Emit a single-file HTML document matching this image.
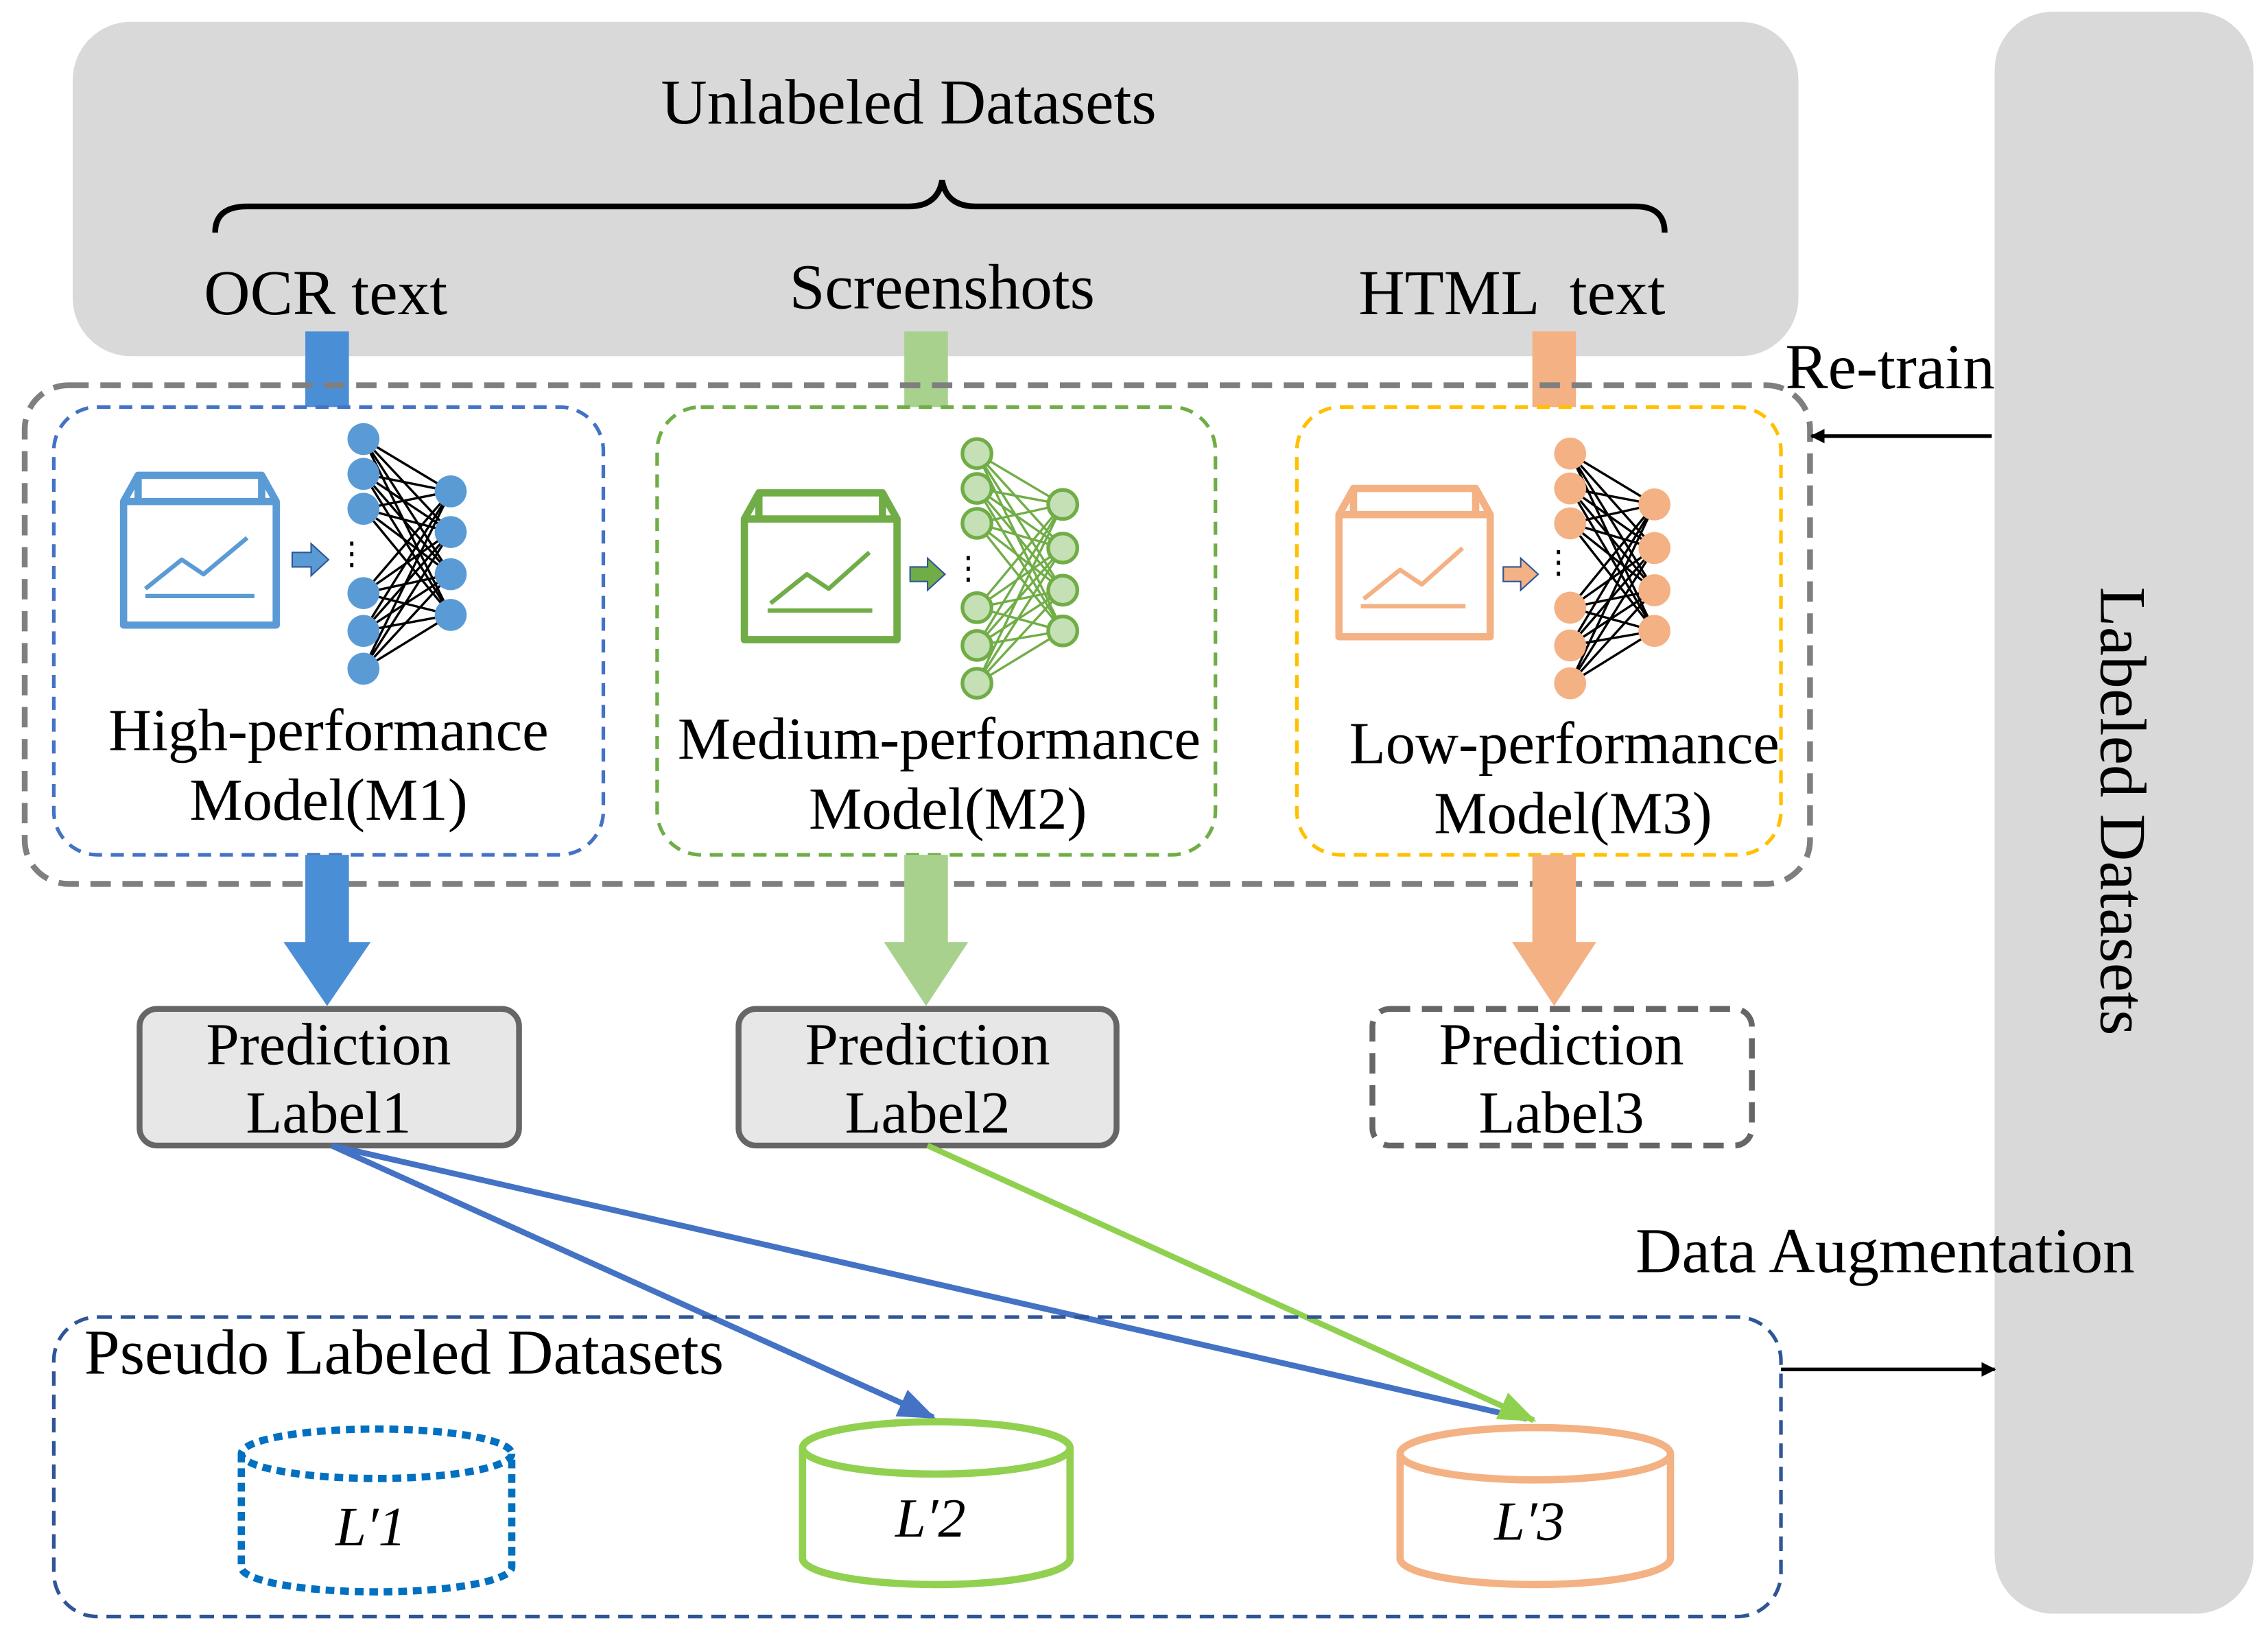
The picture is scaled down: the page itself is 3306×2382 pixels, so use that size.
<!DOCTYPE html>
<html><head><meta charset="utf-8"><style>
html,body{margin:0;padding:0;background:#fff}
svg{display:block}
text{font-family:"Liberation Serif",serif;fill:#000}
</style></head><body>
<svg width="3306" height="2382" viewBox="0 0 1560 1124" xmlns="http://www.w3.org/2000/svg">
<defs>
<marker id="ab" markerWidth="10" markerHeight="10" refX="9" refY="5" orient="auto" markerUnits="userSpaceOnUse"><path d="M0,0 L10,5 L0,10 z" fill="#000"/></marker>
<marker id="bl" markerWidth="26" markerHeight="20" refX="24" refY="10" orient="auto" markerUnits="userSpaceOnUse"><path d="M0,0 L26,10 L0,20 z" fill="#4472c4"/></marker>
<marker id="gr" markerWidth="26" markerHeight="20" refX="24" refY="10" orient="auto" markerUnits="userSpaceOnUse"><path d="M0,0 L26,10 L0,20 z" fill="#8fd14f"/></marker>
</defs>
<rect x="50" y="15" width="1187" height="230" rx="40" fill="#d9d9d9"/>
<text x="625" y="85" font-size="44" text-anchor="middle">Unlabeled Datasets</text>
<path d="M148,160 Q148,142 170,142 L625,142 Q645,142 648,124 Q651,142 671,142 L1125,142 Q1145,142 1145,160" fill="none" stroke="#000" stroke-width="4"/>
<text x="224" y="216" font-size="44" text-anchor="middle">OCR text</text>
<text x="648" y="212" font-size="44" text-anchor="middle">Screenshots</text>
<text x="1040" y="216" font-size="44" text-anchor="middle" xml:space="preserve">HTML  text</text>
<rect x="1372" y="8" width="178" height="1102" rx="40" fill="#d9d9d9"/>
<text transform="translate(1445,558) rotate(90)" font-size="45" text-anchor="middle">Labeled Datasets</text>
<rect x="210" y="228" width="30" height="52" fill="#4a8fd6"/>
<rect x="622" y="228" width="30" height="52" fill="#a9d18e"/>
<rect x="1054" y="228" width="30" height="52" fill="#f4b183"/>
<rect x="17" y="265" width="1228" height="343" rx="30" fill="none" stroke="#7f7f7f" stroke-width="4" stroke-dasharray="14,8"/>
<rect x="37" y="280" width="378" height="308" rx="30" fill="none" stroke="#4472c4" stroke-width="2.5" stroke-dasharray="9,6"/>
<rect x="452" y="280" width="384" height="308" rx="30" fill="none" stroke="#70ad47" stroke-width="2.5" stroke-dasharray="9,6"/>
<rect x="892" y="280" width="333" height="308" rx="30" fill="none" stroke="#ffc000" stroke-width="2.5" stroke-dasharray="9,6"/>
<text x="226" y="516" font-size="41" text-anchor="middle">High-performance</text>
<text x="226" y="564" font-size="41" text-anchor="middle">Model(M1)</text>
<text x="646" y="522" font-size="41" text-anchor="middle">Medium-performance</text>
<text x="652" y="570" font-size="41" text-anchor="middle">Model(M2)</text>
<text x="1076" y="525" font-size="41" text-anchor="middle">Low-performance</text>
<text x="1082" y="573" font-size="41" text-anchor="middle">Model(M3)</text>
<g fill="none" stroke-width="5" stroke-linejoin="round">
 <g stroke="#5b9bd5"><path d="M95,327 L180,327 L190,345 L190,430 L85,430 L85,345 Z M85,345 L190,345 M95,327 L95,345 M180,327 L180,345"/><path d="M100,405 L125,385 L140,395 L170,370" stroke-width="3"/><path d="M100,410 L175,410" stroke-width="3"/></g>
 <g stroke="#70ad47"><path d="M522,339 L607,339 L617,357 L617,440 L512,440 L512,357 Z M512,357 L617,357 M522,339 L522,357 M607,339 L607,357"/><path d="M530,415 L555,395 L570,405 L598,380" stroke-width="3"/><path d="M528,420 L600,420" stroke-width="3"/></g>
 <g stroke="#f4b183"><path d="M931,336 L1015,336 L1025,354 L1025,438 L921,438 L921,354 Z M921,354 L1025,354 M931,336 L931,354 M1015,336 L1015,354"/><path d="M938,412 L963,392 L978,402 L1006,377" stroke-width="3"/><path d="M936,417 L1008,417" stroke-width="3"/></g>
</g>
<path d="M201,380 L214,380 L214,374 L226,385 L214,396 L214,390 L201,390 Z" fill="#5b9bd5" stroke="#2f5597" stroke-width="1"/>
<path d="M626,390 L638,390 L638,384 L650,395 L638,406 L638,400 L626,400 Z" fill="#70ad47" stroke="#2f5597" stroke-width="1"/>
<path d="M1034,390 L1046,390 L1046,384 L1058,395 L1046,406 L1046,400 L1034,400 Z" fill="#f4b183" stroke="#2f5597" stroke-width="1"/>
<text x="242" y="388" font-size="22" text-anchor="middle">⋮</text>
<text x="666" y="398" font-size="22" text-anchor="middle">⋮</text>
<text x="1072" y="394" font-size="22" text-anchor="middle">⋮</text>
<g stroke="#000" stroke-width="1.6">
 <path d="M250,302 L310,338 M250,302 L310,366 M250,302 L310,395 M250,302 L310,423 M250,326 L310,338 M250,326 L310,366 M250,326 L310,395 M250,326 L310,423 M250,350 L310,338 M250,350 L310,366 M250,350 L310,395 M250,350 L310,423 M250,408 L310,338 M250,408 L310,366 M250,408 L310,395 M250,408 L310,423 M250,434 L310,338 M250,434 L310,366 M250,434 L310,395 M250,434 L310,423 M250,460 L310,338 M250,460 L310,366 M250,460 L310,395 M250,460 L310,423"/>
 <path d="M1080,312 L1138,347 M1080,312 L1138,377 M1080,312 L1138,406 M1080,312 L1138,434 M1080,336 L1138,347 M1080,336 L1138,377 M1080,336 L1138,406 M1080,336 L1138,434 M1080,360 L1138,347 M1080,360 L1138,377 M1080,360 L1138,406 M1080,360 L1138,434 M1080,418 L1138,347 M1080,418 L1138,377 M1080,418 L1138,406 M1080,418 L1138,434 M1080,444 L1138,347 M1080,444 L1138,377 M1080,444 L1138,406 M1080,444 L1138,434 M1080,470 L1138,347 M1080,470 L1138,377 M1080,470 L1138,406 M1080,470 L1138,434"/>
</g>
<g stroke="#70ad47" stroke-width="1.6">
 <path d="M672,312 L731,347 M672,312 L731,377 M672,312 L731,406 M672,312 L731,434 M672,336 L731,347 M672,336 L731,377 M672,336 L731,406 M672,336 L731,434 M672,360 L731,347 M672,360 L731,377 M672,360 L731,406 M672,360 L731,434 M672,418 L731,347 M672,418 L731,377 M672,418 L731,406 M672,418 L731,434 M672,444 L731,347 M672,444 L731,377 M672,444 L731,406 M672,444 L731,434 M672,470 L731,347 M672,470 L731,377 M672,470 L731,406 M672,470 L731,434"/>
</g>
<g fill="#5b9bd5"><circle cx="250" cy="302" r="11"/><circle cx="250" cy="326" r="11"/><circle cx="250" cy="350" r="11"/><circle cx="250" cy="408" r="11"/><circle cx="250" cy="434" r="11"/><circle cx="250" cy="460" r="11"/><circle cx="310" cy="338" r="11"/><circle cx="310" cy="366" r="11"/><circle cx="310" cy="395" r="11"/><circle cx="310" cy="423" r="11"/></g>
<g fill="#c5e0b4" stroke="#70ad47" stroke-width="2.5"><circle cx="672" cy="312" r="10"/><circle cx="672" cy="336" r="10"/><circle cx="672" cy="360" r="10"/><circle cx="672" cy="418" r="10"/><circle cx="672" cy="444" r="10"/><circle cx="672" cy="470" r="10"/><circle cx="731" cy="347" r="10"/><circle cx="731" cy="377" r="10"/><circle cx="731" cy="406" r="10"/><circle cx="731" cy="434" r="10"/></g>
<g fill="#f4b183"><circle cx="1080" cy="312" r="11"/><circle cx="1080" cy="336" r="11"/><circle cx="1080" cy="360" r="11"/><circle cx="1080" cy="418" r="11"/><circle cx="1080" cy="444" r="11"/><circle cx="1080" cy="470" r="11"/><circle cx="1138" cy="347" r="11"/><circle cx="1138" cy="377" r="11"/><circle cx="1138" cy="406" r="11"/><circle cx="1138" cy="434" r="11"/></g>
<path d="M210,588 L240,588 L240,648 L255,648 L225,692 L195,648 L210,648 Z" fill="#4a8fd6"/>
<path d="M622,588 L652,588 L652,648 L666,648 L637,692 L608,648 L622,648 Z" fill="#a9d18e"/>
<path d="M1054,588 L1084,588 L1084,648 L1098,648 L1069,692 L1040,648 L1054,648 Z" fill="#f4b183"/>
<rect x="96" y="694" width="261" height="94" rx="12" fill="#e7e7e7" stroke="#666" stroke-width="4"/>
<rect x="508" y="694" width="260" height="94" rx="12" fill="#e7e7e7" stroke="#666" stroke-width="4"/>
<rect x="944" y="694" width="261" height="94" rx="12" fill="none" stroke="#666" stroke-width="4" stroke-dasharray="14,8"/>
<g font-size="41" text-anchor="middle"><text x="226" y="732">Prediction</text><text x="226" y="779">Label1</text>
<text x="638" y="732">Prediction</text><text x="638" y="779">Label2</text>
<text x="1074" y="732">Prediction</text><text x="1074" y="779">Label3</text></g>
<line x1="228" y1="788" x2="642" y2="975" stroke="#4472c4" stroke-width="4" marker-end="url(#bl)"/>
<line x1="228" y1="788" x2="1050" y2="976" stroke="#4472c4" stroke-width="4"/>
<line x1="638" y1="788" x2="1055" y2="977" stroke="#8fd14f" stroke-width="4" marker-end="url(#gr)"/>
<rect x="37" y="906" width="1188" height="206" rx="30" fill="none" stroke="#2f5597" stroke-width="2.5" stroke-dasharray="10,6"/>
<text x="58" y="945" font-size="44">Pseudo Labeled Datasets</text>
<g fill="none" stroke-width="5">
 <path d="M166,1000 L166,1078 A93,17 0 0 0 352,1078 L352,1000" stroke="#0070c0" stroke-dasharray="6,4"/><ellipse cx="259" cy="1000" rx="93" ry="17" stroke="#0070c0" stroke-dasharray="6,4"/>
 <path d="M552,996 L552,1072 A92,18 0 0 0 736,1072 L736,996" stroke="#92d050"/><ellipse cx="644" cy="996" rx="92" ry="18" stroke="#92d050"/>
 <path d="M963,1000 L963,1072 A93,18 0 0 0 1149,1072 L1149,1000" stroke="#f4b183"/><ellipse cx="1056" cy="1000" rx="93" ry="18" stroke="#f4b183"/>
</g>
<g font-size="38" font-style="italic" text-anchor="middle"><text x="255" y="1063">L′1</text><text x="640" y="1057">L′2</text><text x="1052" y="1059">L′3</text></g>
<text x="1228" y="267" font-size="44">Re-train</text>
<line x1="1370" y1="300" x2="1246" y2="300" stroke="#000" stroke-width="2.5" marker-end="url(#ab)"/>
<text x="1125" y="875" font-size="44">Data Augmentation</text>
<line x1="1225" y1="942" x2="1372" y2="942" stroke="#000" stroke-width="2.5" marker-end="url(#ab)"/>
</svg>
</body></html>
